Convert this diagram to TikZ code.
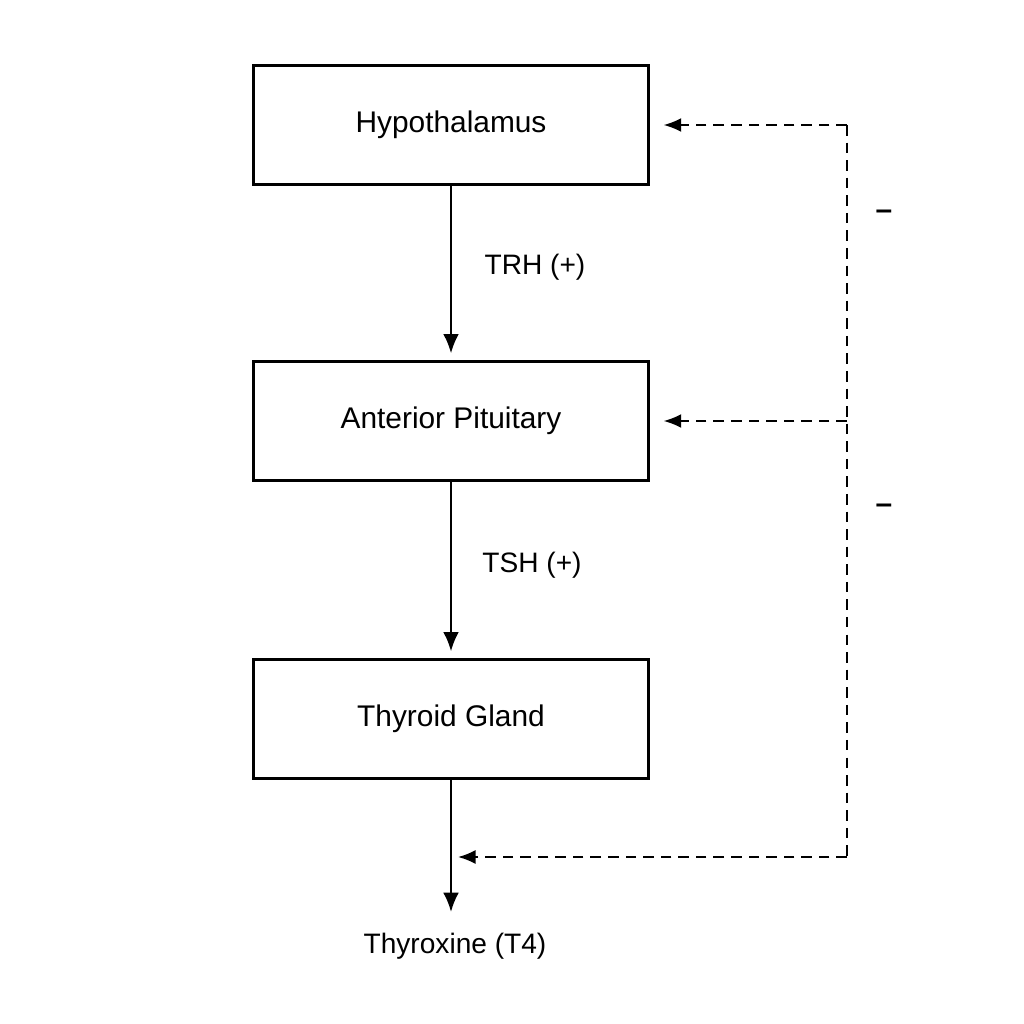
\documentclass[tikz,border=0pt]{standalone}
\usepackage{fontspec}
\setmainfont{Liberation Sans}
\usetikzlibrary{arrows.meta}
\begin{document}
\begin{tikzpicture}[
                x=0.02cm, y=-0.02cm,
                box/.style={draw=black, line width=1.3pt, minimum width=7.9cm, minimum height=2.38cm, font=\fontsize{17}{20}\selectfont},
                lbl/.style={font=\fontsize{16}{19}\selectfont},
                flow/.style={-{Latex[length=11pt,width=9pt]}, line width=1.3pt},
                fb/.style={-{Latex[length=10pt,width=8pt]}, line width=1.1pt, dashed, dash pattern=on 6pt off 4pt},
            ]
                \useasboundingbox (0, 0) rectangle (1024, 1024);
                \node[box] (hyp) at (451, 125) {Hypothalamus};
                \node[box] (pit) at (451, 421) {Anterior Pituitary};
                \node[box] (thy) at (451, 719) {Thyroid Gland};
                \node[lbl] (t4) at (455, 946) {Thyroxine (T4)};
                \coordinate (out) at (451, 912);
                \draw[flow, shorten >=4pt] (hyp) -- (pit);
                \draw[flow, shorten >=4pt] (pit) -- (thy);
                \draw[flow] (thy) -- (out);
                \node[lbl] (trh) at (535, 267) {TRH (+)};
                \node[lbl] (tsh) at (532, 565) {TSH (+)};
                % feedback loop
                \coordinate (fbtop) at (847, 125);
                \coordinate (fbmid) at (847, 421);
                \coordinate (fbbot) at (847, 857);
                \coordinate (fbin) at (458, 857);
                \draw[line width=1.1pt, dash pattern=on 6pt off 4pt] (fbtop) -- (fbbot);
                \draw[fb] (fbtop) -- ([xshift=8pt]hyp.east);
                \draw[fb] (fbmid) -- ([xshift=8pt]pit.east);
                \draw[fb] (fbbot) -- (fbin);
                \node[font=\bfseries\fontsize{17}{20}\selectfont] (m1) at (884, 215) {--};
                \node[font=\bfseries\fontsize{17}{20}\selectfont] (m2) at (884, 509) {--};

            \end{tikzpicture}
\end{document}
